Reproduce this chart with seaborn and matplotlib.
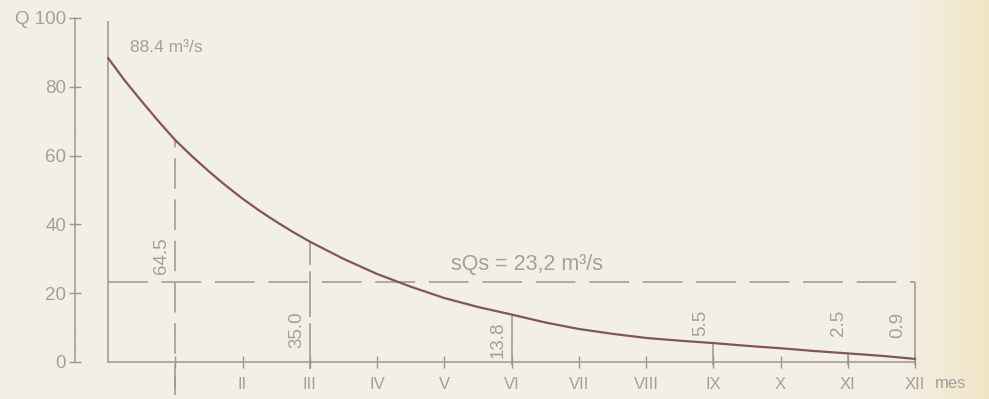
import numpy as np
import pandas as pd
import matplotlib
matplotlib.use("Agg")
import matplotlib.pyplot as plt
import seaborn as sns

# Flow duration curve (months, Q in m3/s)
months = [0, 0.25, 0.5, 0.75, 1, 1.25, 1.5, 1.75, 2, 2.25, 2.5, 2.75, 3, 3.5, 4,
          4.5, 5, 5.5, 6, 6.5, 7, 7.5, 8, 8.5, 9, 9.5, 10, 10.5, 11, 11.5, 12]
flow = [88.4, 81.8, 75.8, 70.0, 64.5, 59.8, 55.4, 51.3, 47.5, 44.0, 40.8, 37.8, 35.0,
        30.0, 25.6, 21.9, 18.6, 16.0, 13.8, 11.5, 9.6, 8.2, 7.0, 6.2, 5.5, 4.7, 4.0,
        3.2, 2.5, 1.8, 0.9]

# marked values on the curve
mark_month = [1, 3, 6, 9, 11, 12]
mark_q = [64.5, 35.0, 13.8, 5.5, 2.5, 0.9]
mark_text = ["64.5", "35.0", "13.8", "5.5", "2.5", "0.9"]

sqs = 23.2
month_ticks = list(range(1, 13))
month_labels = ["I", "II", "III", "IV", "V", "VI", "VII", "VIII", "IX", "X", "XI", "XII"]
q_ticks = [0, 20, 40, 60, 80, 100]
q_labels = ["0", "20", "40", "60", "80", "Q 100"]

bg = "#f2efe7"
ink = "#a3928d"
txt = "#a89e99"
curve_col = "#825653"

sns.set_style("ticks")
plt.rcParams["font.family"] = ["Liberation Sans", "DejaVu Sans"]

fig = plt.figure(figsize=(9.89, 3.99), dpi=100)
fig.patch.set_facecolor(bg)

# yellowish scan tint on the right edge
bg_ax = fig.add_axes([0, 0, 1, 1], zorder=-1)
grad = np.clip((np.linspace(0, 1, 400) - 0.91) / 0.09, 0, 1)
tint = np.zeros((2, 400, 3))
c0 = np.array([242, 239, 231]) / 255
c1 = np.array([240, 230, 198]) / 255
tint[:] = c0[None, :] * (1 - grad[:, None]) + c1[None, :] * grad[:, None]
bg_ax.imshow(tint, aspect="auto", extent=[0, 1, 0, 1])
bg_ax.axis("off")

ax = fig.add_axes([0, 0, 1, 1])
ax.patch.set_alpha(0)

df = pd.DataFrame({"mes": months, "Q": flow})
sns.lineplot(data=df, x="mes", y="Q", ax=ax, color=curve_col, lw=1.6, zorder=5)

# pixel mapping: x=0 at 108 px, 67.25 px per month; y=0 at 362 px, 3.44 px per unit
ax.set_xlim(-108 / 67.25, (989 - 108) / 67.25)
ax.set_ylim((362 - 399) / 3.44, 362 / 3.44)

# axes
for s in ["top", "right"]:
    ax.spines[s].set_visible(False)
ax.spines["left"].set_position(("data", -0.49))
ax.spines["left"].set_bounds(0, 100)
ax.spines["bottom"].set_position(("data", 0))
ax.spines["bottom"].set_bounds(0, 12)
for s in ["left", "bottom"]:
    ax.spines[s].set_color(ink)
    ax.spines[s].set_linewidth(1.1)

ax.set_xticks(month_ticks)
ax.set_xticklabels(month_labels)
ax.set_yticks(q_ticks)
ax.set_yticklabels(q_labels)
ax.tick_params(axis="x", direction="inout", length=9, width=1, color=ink,
               labelcolor=txt, labelsize=12, pad=6)
ax.tick_params(axis="y", direction="inout", length=9, width=1, color=ink,
               labelcolor=txt, labelsize=13.5, pad=2)
ax.set_xlabel("")
ax.set_ylabel("")
ax.text(12.3, -6.3, "mes", color=txt, fontsize=12, ha="left", va="center")

# frame line at month 0
ax.vlines(0, 0, 99, color=ink, lw=1.1)

# sQs line
ax.hlines(sqs, 0, 12, color=ink, lw=1.1, linestyles=(0, (26, 9)))
ax.vlines(12, -1, sqs, color=ink, lw=1.1)
ax.text(5.1, 28.4, "sQs = 23,2 m³/s", color=txt, fontsize=15.5, ha="left", va="center")

# marked values
ax.vlines(mark_month[0], -9.5, mark_q[0], color=ink, lw=1.1, linestyles=(0, (20, 7)))
ax.vlines(mark_month[1], -2, mark_q[1], color=ink, lw=1.1, linestyles=(0, (30, 4)))
for m, q in zip(mark_month[2:5], mark_q[2:5]):
    ax.vlines(m, -1, q, color=ink, lw=1.1)

label_pos = [(0.8, 31), (2.81, 9.3), (5.8, 6.6), (8.82, 11.3), (10.86, 11.3), (11.75, 10.8)]
for (lx, ly), t in zip(label_pos, mark_text):
    ax.text(lx, ly, t, rotation=90, color=txt, fontsize=13.5, ha="center", va="center")

ax.text(0.33, 91.3, "88.4 m³/s", color=txt, fontsize=12.5, ha="left", va="center")

plt.savefig("out.png", dpi=100, facecolor=fig.get_facecolor())
plt.close()
